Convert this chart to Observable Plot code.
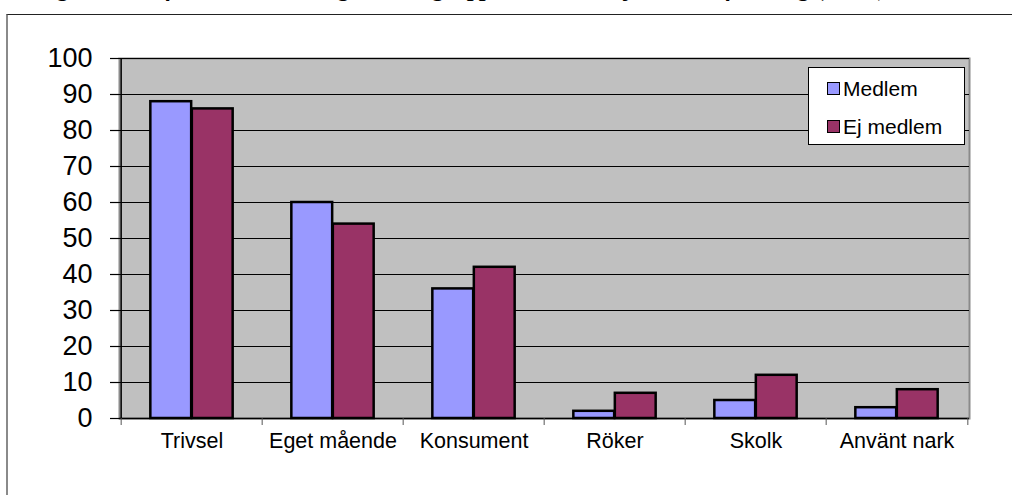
<!DOCTYPE html>
<html>
<head>
<meta charset="utf-8">
<script src="https://cdn.jsdelivr.net/npm/d3@7"></script>
<script src="https://cdn.jsdelivr.net/npm/@observablehq/plot@0.6"></script>
<style>
  html, body { margin: 0; padding: 0; background: #fff; }
  body { position: relative; width: 1012px; height: 495px; overflow: hidden; font-family: "Liberation Sans", Arial, sans-serif; }
  #title { position: absolute; left: 36px; top: -25px; line-height: 28px; font: bold italic 24px "Liberation Serif", "Times New Roman", serif; white-space: nowrap; color: #000; }
  #frame { position: absolute; left: 6px; top: 14px; width: 1100px; height: 600px; border-left: 2px solid #8a8a8a; border-top: 1.5px solid #222; box-sizing: border-box; background: transparent; }
  #chart { position: absolute; left: 0; top: 0; }
  #legend { position: absolute; left: 808px; top: 67px; width: 157px; height: 78px; box-sizing: border-box; background: #fff; border: 1px solid #000; font-size: 21px; color: #000; }
  #legend .row { position: absolute; left: 18px; display: flex; align-items: center; line-height: 1; }
  #legend .sw { width: 11px; height: 11px; border: 1.5px solid #000; margin-right: 3px; }
</style>
</head>
<body>
<div id="title">Figur 4. Jämförelse mellan ungdomar i grupp och de som ej är med i förening (andel)</div>
<div id="frame"></div>
<div id="chart"></div>
<div id="legend"></div>
<script>
// ---- data ----
const categories = ["Trivsel", "Eget mående", "Konsument", "Röker", "Skolk", "Använt nark"];
const seriesNames = ["Medlem", "Ej medlem"];
const medlemValues = [88, 60, 36, 2, 5, 3];
const ejMedlemValues = [86, 54, 42, 7, 12, 8];
const yTickValues = [0, 10, 20, 30, 40, 50, 60, 70, 80, 90, 100];
const seriesColors = ["#9999ff", "#993366"];

// ---- table built from arrays ----
const rows = [];
categories.forEach((c, i) => {
  rows.push({category: c, series: seriesNames[0], value: medlemValues[i]});
  rows.push({category: c, series: seriesNames[1], value: ejMedlemValues[i]});
});

const W = 1012, H = 495;
const mL = 119, mR = 43, mT = 58, mB = 77;
const bw = (W - mL - mR) / categories.length; // band width in px
const barW = 41.5;

const chart = Plot.plot({
  width: W,
  height: H,
  marginLeft: mL,
  marginRight: mR,
  marginTop: mT,
  marginBottom: mB,
  style: {background: "transparent", fontFamily: "'Liberation Sans', Arial, sans-serif", color: "#000"},
  x: {domain: categories, padding: 0, axis: null},
  y: {domain: [0, 100], axis: null},
  color: {domain: seriesNames, range: seriesColors},
  marks: [
    Plot.frame({fill: "#c0c0c0", stroke: "#8a8a8a", strokeWidth: 2}),
    Plot.gridY(yTickValues, {stroke: "#000", strokeOpacity: 1, strokeWidth: 1}),
    Plot.barY(rows.filter(d => d.series === seriesNames[0]), {
      x: "category", y: "value", fill: "series",
      stroke: "#000", strokeWidth: 2.5,
      insetLeft: bw / 2 - barW, insetRight: bw / 2
    }),
    Plot.barY(rows.filter(d => d.series === seriesNames[1]), {
      x: "category", y: "value", fill: "series",
      stroke: "#000", strokeWidth: 2.5,
      insetLeft: bw / 2, insetRight: bw / 2 - barW
    }),
    Plot.ruleX([categories[0]], {dx: -bw / 2, stroke: "#000", strokeWidth: 1.5}),
    Plot.ruleY([0], {stroke: "#000", strokeWidth: 1.5}),
    Plot.axisY(yTickValues, {
      tickSize: 9, tickPadding: 18, fontSize: 27, label: null,
      tickFormat: d => String(d), stroke: "#000", strokeWidth: 1.2
    }),
    Plot.axisX(categories, {
      tickSize: 7, tickPadding: 0, tickFormat: () => "", label: null, dx: -bw / 2, stroke: "#555"
    }),
    Plot.axisX([categories[categories.length - 1]], {
      tickSize: 7, tickPadding: 0, tickFormat: () => "", label: null, dx: bw / 2, stroke: "#555"
    }),
    Plot.axisX(categories, {tickSize: 0, tickPadding: 14, fontSize: 21.5, label: null})
  ]
});
document.getElementById("chart").appendChild(chart);

// legend
const legend = document.getElementById("legend");
const rowTops = [10, 48];
seriesNames.forEach((s, i) => {
  const r = document.createElement("div");
  r.className = "row";
  r.style.top = rowTops[i] + "px";
  const sw = document.createElement("span");
  sw.className = "sw";
  sw.style.background = seriesColors[i];
  const t = document.createElement("span");
  t.textContent = s;
  r.appendChild(sw);
  r.appendChild(t);
  legend.appendChild(r);
});
</script>
</body>
</html>
